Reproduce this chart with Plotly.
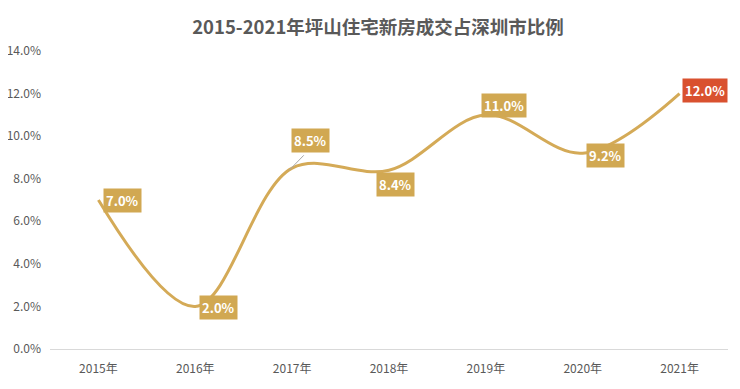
import plotly.graph_objects as go

years = ["2015年", "2016年", "2017年", "2018年", "2019年", "2020年", "2021年"]
share = [7.0, 2.0, 8.5, 8.4, 11.0, 9.2, 12.0]
y_ticks = [0, 2, 4, 6, 8, 10, 12, 14]
y_tick_text = ["0.0%", "2.0%", "4.0%", "6.0%", "8.0%", "10.0%", "12.0%", "14.0%"]
label_offsets = [(24, 0), (23, -1), (18, 28), (6, -14), (18, 9), (23, -2), (25, 3)]

gold = "#D4AA57"
fig = go.Figure()
fig.add_trace(go.Scatter(
    x=years, y=share, mode="lines",
    line=dict(color=gold, width=3, shape="spline", smoothing=1.0),
    hoverinfo="skip", showlegend=False))

for i, (yr, v) in enumerate(zip(years, share)):
    dx, dy = label_offsets[i]
    fig.add_annotation(
        x=yr, y=v, text=f"<b>{v:.1f}%</b>", showarrow=False,
        xshift=dx, yshift=dy,
        bgcolor="#D9512F" if i == len(years) - 1 else "#D1A852",
        font=dict(color="white", size=13, family="Noto Sans CJK SC"),
        borderpad=2)

fig.add_shape(type="line", xref="x", yref="y", x0=1.97, y0=8.4, x1=2.12, y1=9.1,
              line=dict(color="#A6A6A6", width=1))

fig.update_layout(
    width=740, height=389,
    margin=dict(l=42, r=20, t=43, b=48),
    paper_bgcolor="white", plot_bgcolor="white",
    title=dict(text="<b>2015-2021年坪山住宅新房成交占深圳市比例</b>",
               x=0.5, xanchor="center", y=0.951, yanchor="middle",
               font=dict(size=18.5, color="#595959", family="Noto Sans CJK SC")),
    font=dict(family="Noto Sans CJK SC", color="#595959", size=12),
    xaxis=dict(range=[-0.5, 6.5], showgrid=False, showline=True, linecolor="#D9D9D9", linewidth=1,
               ticks="", automargin=False, ticklabelstandoff=9,
               tickfont=dict(size=12, color="#595959")),
    yaxis=dict(range=[0, 14], tickvals=y_ticks, ticktext=y_tick_text, automargin=False,
               ticklabelstandoff=8,
               showgrid=False, zeroline=False, showline=False, ticks="",
               tickfont=dict(size=12, color="#595959")),
)
fig.write_html("out.html")
